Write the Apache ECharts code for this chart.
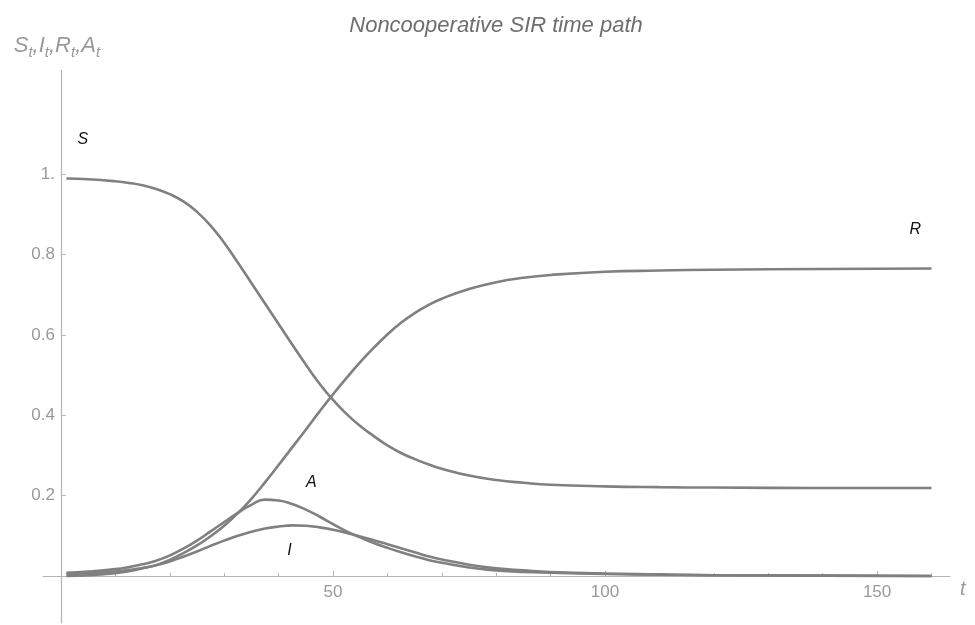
<!DOCTYPE html>
<html>
<head>
<meta charset="utf-8">
<script src="https://cdn.jsdelivr.net/npm/echarts@6/dist/echarts.min.js"></script>
<style>html,body{margin:0;padding:0;background:#fff}#c{width:975px;height:625px}</style>
</head>
<body>
<div id="c"></div>
<script>
// time points
const tValues = [1,5,10,12.5,15,17.5,20,22.5,25,27.5,30,32.5,35,37.5,40,42.5,45,47.5,50,52.5,55,57.5,60,62.5,65,67.5,70,75,80,85,90,100,110,120,140,160];
// series values
const sValues = [0.989,0.987,0.982,0.978,0.972,0.963,0.950,0.932,0.906,0.872,0.829,0.780,0.729,0.678,0.627,0.576,0.526,0.479,0.438,0.403,0.373,0.348,0.325,0.306,0.291,0.278,0.267,0.250,0.239,0.232,0.227,0.223,0.221,0.220,0.219,0.219];
const iValues = [0.005,0.007,0.011,0.015,0.020,0.027,0.036,0.048,0.061,0.075,0.088,0.100,0.110,0.118,0.123,0.126,0.125,0.121,0.115,0.107,0.098,0.089,0.079,0.069,0.059,0.049,0.041,0.028,0.019,0.014,0.010,0.006,0.004,0.002,0.001,0.000];
const rValues = [0.000,0.002,0.007,0.012,0.019,0.027,0.040,0.057,0.076,0.099,0.125,0.156,0.192,0.233,0.276,0.320,0.364,0.409,0.452,0.493,0.532,0.568,0.601,0.630,0.654,0.674,0.690,0.714,0.731,0.742,0.749,0.757,0.760,0.762,0.764,0.765];
const aValues = [0.008,0.011,0.017,0.022,0.029,0.038,0.051,0.068,0.088,0.111,0.134,0.157,0.177,0.190,0.188,0.179,0.165,0.148,0.129,0.111,0.096,0.082,0.070,0.059,0.049,0.040,0.033,0.021,0.014,0.010,0.008,0.005,0.003,0.002,0.001,0.000];
// tick labels
const xTickLabels = [50,100,150];
const xMinorTicks = [10,20,30,40,50,60,70,80,90,100,110,120,130,140,150,160];
const yTickLabels = [0.2,0.4,0.6,0.8,1.0];
// curve annotations [name, t, value]
const curveLabels = [['S',4.0,1.085],['R',157.0,0.861],['A',46.0,0.232],['I',42.0,0.063]];

const FONT = 'Liberation Sans, Arial, sans-serif';
const LINE = '#808080';
const AXIS = '#b4b4b4';
const LAB = '#999999';

function pairs(vals){ return tValues.map((t,i)=>[t, vals[i]]); }

function mk(name, vals){
  const lab = curveLabels.find(l=>l[0]===name);
  return {
    type:'line', name, data: pairs(vals), showSymbol:false, symbol:'none',
    smooth:0.5,
    lineStyle:{color:LINE, width:2.6}, itemStyle:{color:LINE},
    xAxisIndex:0, yAxisIndex:0, animation:false, silent:true,
    markPoint:{
      symbol:'circle', symbolSize:1, itemStyle:{color:'rgba(0,0,0,0)'}, silent:true, animation:false,
      label:{show:true, position:'inside', formatter:name, color:'#111', fontStyle:'italic', fontSize:16, fontFamily:FONT},
      data:[{coord:[lab[1], lab[2]]}]
    }
  };
}

const chart = echarts.init(document.getElementById('c'), null, {renderer:'canvas'});
chart.setOption({
  backgroundColor:'#fff',
  animation:false,
  title:{
    text:'Noncooperative SIR time path', left:491, top:10, textAlign:'center',
    textStyle:{fontSize:22, fontStyle:'italic', fontWeight:'normal', color:'#6e6e6e', fontFamily:FONT}
  },
  grid:{left:43, right:25, top:70, bottom:2, containLabel:false, outerBoundsMode:'none'},
  xAxis:[{
    type:'value', min:-3.3, max:163.4,
    name:'t', nameLocation:'end', nameGap:10,
    nameTextStyle:{fontSize:20, fontStyle:'italic', color:LAB, fontFamily:FONT, verticalAlign:'top', padding:[3,0,0,0]},
    axisLine:{show:true, onZero:true, lineStyle:{color:AXIS, width:1.2}},
    axisTick:{show:true, inside:true, length:5, customValues:xTickLabels, lineStyle:{color:AXIS}},
    axisLabel:{show:true, customValues:xTickLabels, margin:-39, fontSize:17, color:LAB, fontFamily:FONT},
    splitLine:{show:false}
  },{
    type:'value', min:-3.3, max:163.4, position:'bottom',
    axisLine:{show:false, onZero:true, onZeroAxisIndex:1},
    axisTick:{show:true, inside:true, length:3, customValues:xMinorTicks, lineStyle:{color:AXIS}},
    axisLabel:{show:false},
    splitLine:{show:false}
  }],
  yAxis:[{
    type:'value', min:-0.117, max:1.259,
    name:'{a|S}{b|t}{a|,I}{b|t}{a|,R}{b|t}{a|,A}{b|t}',
    nameLocation:'end', nameGap:10,
    nameTextStyle:{
      align:'center', padding:[0,8,0,0],
      rich:{
        a:{fontSize:22, lineHeight:28, fontStyle:'italic', color:LAB, fontFamily:FONT, verticalAlign:'middle'},
        b:{fontSize:15, lineHeight:16, fontStyle:'italic', color:LAB, fontFamily:FONT, verticalAlign:'bottom'}
      }
    },
    axisLine:{show:true, onZero:true, lineStyle:{color:AXIS, width:1.2}},
    axisTick:{show:true, inside:true, length:5, customValues:yTickLabels, lineStyle:{color:AXIS}},
    axisLabel:{show:true, customValues:yTickLabels, margin:-12, fontSize:17, color:LAB, fontFamily:FONT,
      formatter:(v)=> Math.abs(v-1)<1e-9 ? '1.' : (+v.toFixed(1)).toString()},
    splitLine:{show:false}
  },{
    type:'value', min:-0.117, max:1.259, show:false,
    axisLine:{show:false, onZero:false}, axisTick:{show:false}, axisLabel:{show:false}, splitLine:{show:false}
  }],
  series:[mk('S',sValues), mk('I',iValues), mk('R',rValues), mk('A',aValues)]
});
</script>
</body>
</html>
